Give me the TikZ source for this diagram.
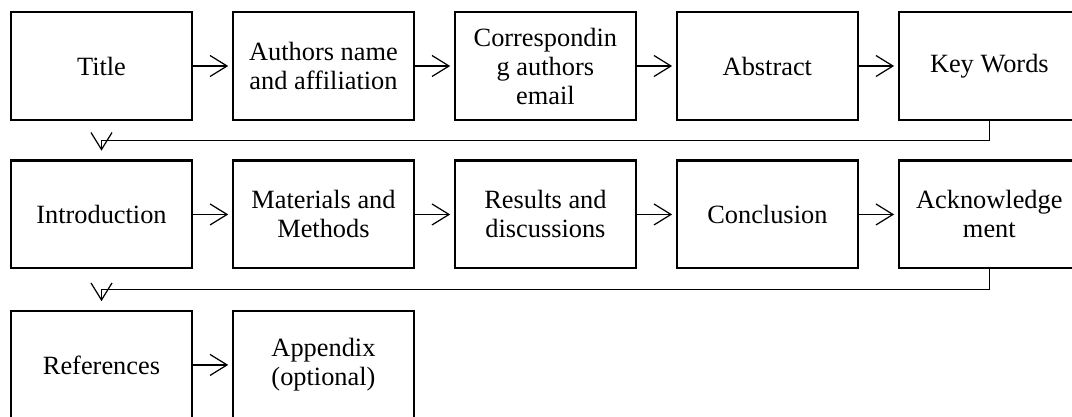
\documentclass[tikz,border=0pt]{standalone}
\usepackage{fontspec}
\setmainfont{Liberation Serif}
\usetikzlibrary{positioning,calc,arrows.meta}

\begin{document}
\begin{tikzpicture}[
  box/.style={draw, rectangle, line width=1.4pt, minimum width=3.62cm, minimum height=2.15cm, align=center, font=\fontsize{15}{16.5}\selectfont},
  flow/.style={-{Straight Barb[length=0.34cm, width=0.42cm]}, line width=0.7pt, shorten >=2pt},
  turn/.style={flow, shorten >=5pt},
]
\useasboundingbox (0,0) rectangle (21.44,-8.34);

% 第一行
\node[box] (title) at (2.03,-1.32) {Title};
\node[box, right=0.77cm of title] (authors) {Authors name\\and affiliation};
\node[box, right=0.77cm of authors] (email) {Correspondin\\g authors\\email};
\node[box, right=0.77cm of email] (abstract) {Abstract};
\node[box, right=0.77cm of abstract] (keywords) {Key Words};

% 第二行
\node[box, below=0.77cm of title] (intro) {Introduction};
\node[box, right=0.77cm of intro] (methods) {Materials and\\Methods};
\node[box, right=0.77cm of methods] (results) {Results and\\discussions};
\node[box, right=0.77cm of results] (conclusion) {Conclusion};
\node[box, right=0.77cm of conclusion] (ack) {Acknowledge\\ment};

% 第三行
\node[box, below=0.81cm of intro] (refs) {References};
\node[box, right=0.77cm of refs] (appendix) {Appendix\\(optional)};

% 折返点
\coordinate (bend1) at ($(title.south)!0.5!(intro.north)$);
\coordinate (bend2) at ($(intro.south)!0.5!(refs.north)$);

% 连接线
\draw[flow] (title) -- (authors);
\draw[flow] (authors) -- (email);
\draw[flow] (email) -- (abstract);
\draw[flow] (abstract) -- (keywords);
\draw[turn] (keywords.south) |- (bend1) -- (intro.north);
\draw[flow] (intro) -- (methods);
\draw[flow] (methods) -- (results);
\draw[flow] (results) -- (conclusion);
\draw[flow] (conclusion) -- (ack);
\draw[turn] (ack.south) |- (bend2) -- (refs.north);
\draw[flow] (refs) -- (appendix);
\end{tikzpicture}
\end{document}
